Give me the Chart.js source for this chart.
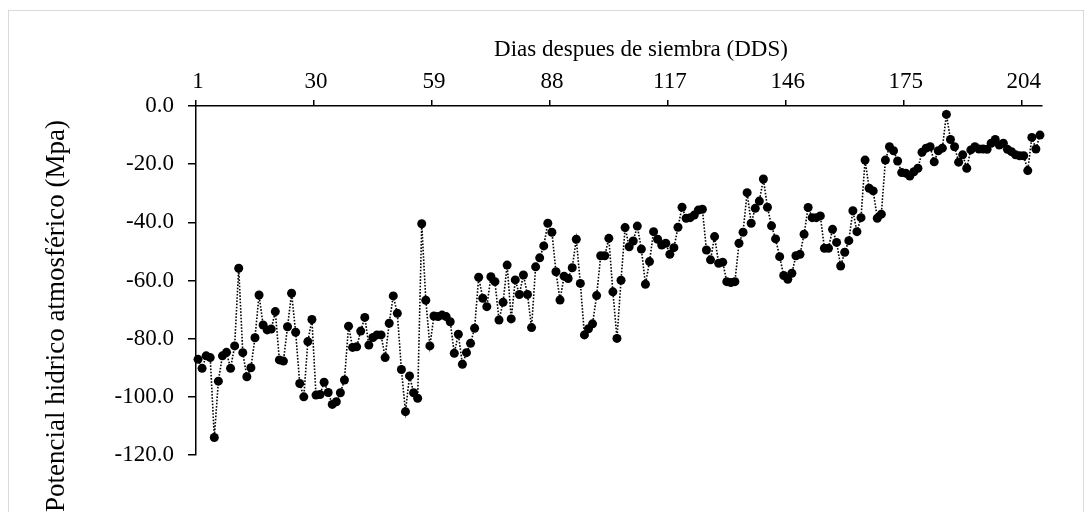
<!DOCTYPE html>
<html>
<head>
<meta charset="utf-8">
<script src="https://cdn.jsdelivr.net/npm/chart.js@4.4.0/dist/chart.umd.min.js"></script>
<style>
  html, body { margin: 0; padding: 0; background: #fff; }
  #wrap { width: 1092px; height: 512px; }
</style>
</head>
<body>
<div id="wrap"><canvas id="potencialChart" width="1092" height="512"></canvas></div>
<script>
// potencial hidrico atmosferico (Mpa), one value per day after sowing
const potencial = [
  -87.1, -90.2, -85.9, -86.5, -114.0, -94.6, -85.9, -84.7, -90.2, -82.5,
  -55.8, -84.8, -93.1, -90.0, -79.7, -65.0, -75.3, -77.0, -76.7, -70.7,
  -87.3, -87.7, -75.9, -64.4, -77.8, -95.4, -100.0, -81.0, -73.4, -99.4,
  -99.2, -95.0, -98.5, -102.6, -101.7, -98.6, -94.2, -75.7, -83.0, -82.8,
  -77.4, -72.7, -82.2, -79.6, -78.7, -78.7, -86.5, -74.7, -65.3, -71.3,
  -90.6, -105.1, -92.8, -98.6, -100.5, -40.5, -66.8, -82.5, -72.2, -72.4,
  -71.9, -72.4, -74.2, -85.0, -78.5, -88.8, -84.8, -81.6, -76.4, -58.9,
  -66.1, -69.0, -58.7, -60.4, -73.6, -67.5, -54.7, -73.2, -59.8, -64.8,
  -58.1, -64.8, -76.2, -55.3, -52.2, -48.1, -40.3, -43.4, -57.0, -66.7,
  -58.5, -59.3, -55.6, -45.8, -61.0, -78.7, -76.6, -74.9, -65.2, -51.5,
  -51.5, -45.5, -63.9, -79.9, -59.9, -41.8, -48.4, -46.4, -41.3, -49.2,
  -61.3, -53.5, -43.2, -45.8, -47.8, -47.2, -51.0, -48.7, -41.7, -34.8,
  -38.6, -38.4, -37.5, -35.8, -35.5, -49.5, -52.9, -44.9, -54.1, -53.7,
  -60.4, -60.7, -60.4, -47.2, -43.4, -29.8, -40.3, -35.2, -32.7, -25.1,
  -34.8, -41.2, -45.7, -51.8, -58.3, -59.6, -57.5, -51.5, -51.0, -44.1,
  -34.9, -38.4, -38.4, -37.8, -48.9, -48.9, -42.4, -46.9, -55.0, -50.3,
  -46.3, -36.0, -43.2, -38.4, -18.6, -28.3, -29.2, -38.6, -37.2, -18.6,
  -14.0, -15.4, -18.9, -22.9, -23.1, -24.1, -22.6, -21.4, -15.9, -14.5,
  -14.0, -19.2, -15.4, -14.5, -2.9, -11.5, -14.0, -19.3, -16.8, -21.4,
  -15.1, -14.0, -14.8, -14.8, -14.9, -12.8, -11.5, -13.4, -12.8, -14.9,
  -15.7, -16.8, -17.1, -17.1, -22.2, -10.8, -14.8, -10.0
];
const dias = potencial.map((v, i) => i + 1);
const diasEtiquetas = [1, 30, 59, 88, 117, 146, 175, 204];
const yMin = -120;
const yMax = 0;
const yPaso = 20;

const tituloX = 'Dias despues de siembra (DDS)';
const tituloY = 'Potencial hidrico atmosférico (Mpa)';
const familia = '"Liberation Serif", "Times New Roman", serif';
const fuente = { family: familia, size: 23 };

const titulosPlugin = {
  id: 'titulos',
  beforeDraw(chart) {
    const c = chart.ctx;
    c.save();
    c.fillStyle = '#fff';
    c.fillRect(0, 0, chart.width, chart.height);
    c.strokeStyle = '#d9d9d9';
    c.lineWidth = 1;
    c.strokeRect(8.5, 10.5, 1075, 600);
    c.restore();
  },
  afterDraw(chart) {
    const c = chart.ctx;
    c.save();
    c.fillStyle = '#000';
    c.textAlign = 'center';
    c.textBaseline = 'middle';
    c.font = '23px ' + familia;
    c.fillText(tituloX, 641, 50);
    c.font = '27px ' + familia;
    c.translate(57, 316);
    c.rotate(-Math.PI / 2);
    c.fillText(tituloY, 0, 0);
    c.restore();
  }
};

const ctx = document.getElementById('potencialChart').getContext('2d');
new Chart(ctx, {
  type: 'line',
  data: {
    labels: dias,
    datasets: [{
      label: 'Potencial hidrico',
      data: potencial,
      borderColor: '#000',
      borderWidth: 1.6,
      borderDash: [1.6, 1.6],
      pointRadius: 4.5,
      pointBackgroundColor: '#000',
      pointBorderWidth: 0,
      tension: 0,
      fill: false
    }]
  },
  options: {
    responsive: false,
    animation: false,
    layout: { padding: { left: 0, top: 0, right: 50, bottom: 57 } },
    plugins: { legend: { display: false }, tooltip: { enabled: false } },
    scales: {
      x: {
        type: 'category',
        position: 'top',
        offset: true,
        grid: {
          offset: true,
          drawOnChartArea: false,
          tickLength: 6,
          lineWidth: 1.5,
          color: c => (c.index % 29 === 0 ? '#000' : 'rgba(0,0,0,0)')
        },
        border: { color: '#000', width: 1.5 },
        ticks: {
          autoSkip: false,
          maxRotation: 0,
          padding: 4,
          color: '#000',
          font: fuente,
          callback: (val, i) => (diasEtiquetas.includes(dias[i]) ? String(dias[i]) : '')
        },
        afterFit: s => { s.height = 106; }
      },
      y: {
        min: yMin,
        max: yMax,
        grid: { drawOnChartArea: false, tickLength: 8, lineWidth: 1.5, color: '#000' },
        border: { color: '#000', width: 1.5 },
        ticks: {
          stepSize: yPaso,
          padding: 14,
          color: '#000',
          font: fuente,
          callback: v => v.toFixed(1)
        },
        afterFit: s => { s.width = 196; }
      }
    }
  },
  plugins: [titulosPlugin]
});
</script>
</body>
</html>
